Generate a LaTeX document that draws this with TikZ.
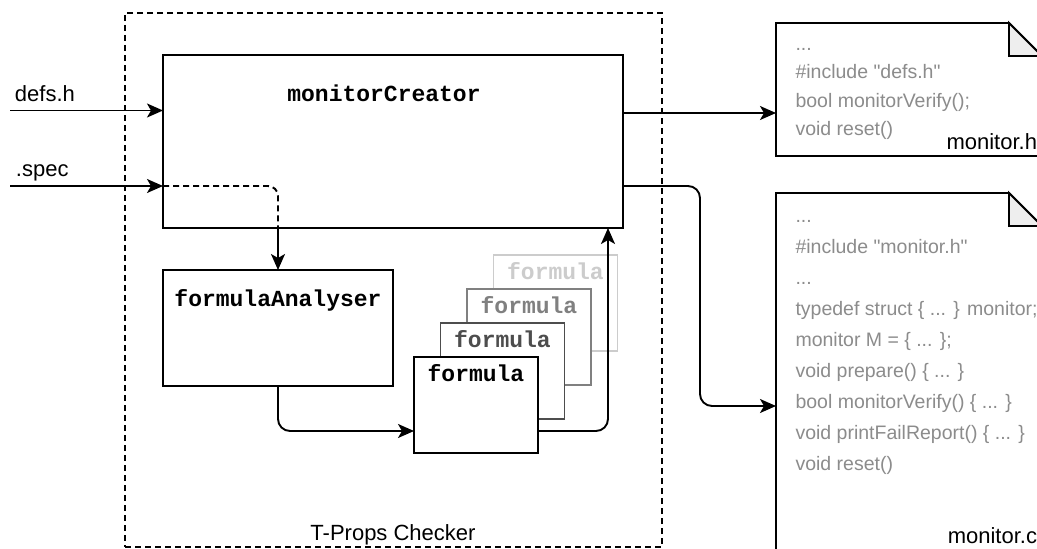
\documentclass[tikz,border=0pt]{standalone}
\usepackage{fontspec}
\setmainfont{Liberation Sans}
\newfontfamily\listfont{Liberation Sans}
\newfontfamily\codefont{Liberation Mono}
\usetikzlibrary{arrows.meta,calc}

\definecolor{codegray}{HTML}{8C8C8C}
\definecolor{foldfill}{HTML}{EEEEEE}
\definecolor{g1}{HTML}{4D4D4D}
\definecolor{g2}{HTML}{808080}
\definecolor{g3}{HTML}{CCCCCC}

\begin{document}
\begin{tikzpicture}[x=1pt,y=-1pt,
  every node/.style={inner sep=0pt,outer sep=0pt},
  lw/.style={line width=1.9pt},
  block/.style={draw, lw, fill=white, rectangle},
  arr/.style={lw, -{Stealth[length=16pt,width=14pt,inset=4pt]}},
  dashline/.style={lw, dash pattern=on 6pt off 4pt},
  lbl/.style={font=\fontsize{22}{26}\selectfont},
  code/.style={font=\codefont\bfseries\fontsize{23}{27}\selectfont},
  listing/.style={font=\listfont\fontsize{19.5}{24}\selectfont, text=codegray, anchor=base west},
  docline/.style={lw, fill=white, line join=miter},
]
\useasboundingbox (0,0) rectangle (1037,549);
\clip (0,0) rectangle (1037,549);

% checker frame
\node[draw, dashline, minimum width=537pt, minimum height=534pt] (frame) at (393.5,280) {};
\node[lbl, anchor=base] (frametitle) at (393,540) {T-Props Checker};

% main blocks
\node[block, minimum width=460pt, minimum height=173pt] (mc) at (393,141.5) {};
\node[code, anchor=base] (mctext) at (384,101) {monitorCreator};
\node[block, minimum width=230pt, minimum height=116pt] (fa) at (278,328) {};
\node[code, anchor=base] (fatext) at (278,306) {formulaAnalyser};

% stack of formula blocks, back to front
\foreach \i/\c in {3/g3,2/g2,1/g1,0/black}{
  \node[block, draw=\c, minimum width=124pt, minimum height=96pt] (f\i) at ({476+26.5*\i},{405-34*\i}) {};
  \node[code, text=\c, anchor=base] (ft\i) at ($(f\i.north)+(0,24.5)$) {formula};
}

% inputs
\coordinate (in1) at (10,110.5);
\coordinate (in2) at (10,186);
\node[lbl, anchor=base west] (defs) at (15,101) {defs.h};
\node[lbl, anchor=base west] (spec) at (16,176) {.spec};
\draw[arr] (in1) -- (in1 -| mc.west);
\draw[arr] (in2) -- (in2 -| mc.west);

% spec routed through monitorCreator to formulaAnalyser
\draw[dashline, rounded corners=10pt] (in2 -| mc.west) -| (fa.north |- mc.south);
\draw[arr] (fa.north |- mc.south) -- (fa.north);

% formulaAnalyser -> formula -> monitorCreator
\draw[arr, rounded corners=12pt] (fa.south) |- ([yshift=22pt]f0.south west);
\draw[arr, rounded corners=12pt] ([yshift=22pt]f0.south east) -| ([xshift=-15pt]mc.south east);

% output documents
\node[minimum width=266pt, minimum height=133pt] (mh) at (909,89.5) {};
\draw[docline] (mh.north west) -- ($(mh.north east)+(-33,0)$) -- ($(mh.north east)+(0,33)$)
  -- (mh.south east) -- (mh.south west) -- cycle;
\draw[lw, fill=foldfill, line join=miter] ($(mh.north east)+(-33,0)$) -- ($(mh.north east)+(-33,33)$) -- ($(mh.north east)+(0,33)$) -- cycle;

\node[minimum width=266pt, minimum height=426pt] (mcdoc) at (909,406) {};
\draw[docline] (mcdoc.north west) -- ($(mcdoc.north east)+(-33,0)$) -- ($(mcdoc.north east)+(0,33)$)
  -- (mcdoc.south east) -- (mcdoc.south west) -- cycle;
\draw[lw, fill=foldfill, line join=miter] ($(mcdoc.north east)+(-33,0)$) -- ($(mcdoc.north east)+(-33,33)$) -- ($(mcdoc.north east)+(0,33)$) -- cycle;

% monitor.h contents
\node[listing] (h1) at (795.5,50) {...};
\node[listing] (h2) at (795.5,78) {\#include "defs.h"};
\node[listing] (h3) at (795.5,107) {bool monitorVerify();};
\node[listing] (h4) at (795.5,135) {void reset()};
\node[lbl, anchor=base east] (mhname) at (1037,149) {monitor.h};

% monitor.c contents
\node[listing] (c1) at (795.5,222) {...};
\node[listing] (c2) at (795.5,253) {\#include "monitor.h"};
\node[listing] (c3) at (795.5,284) {...};
\node[listing] (c4) at (795.5,315) {typedef struct \{ ... \} monitor;};
\node[listing] (c5) at (795.5,346) {monitor M = \{ ... \};};
\node[listing] (c6) at (795.5,377) {void prepare() \{ ... \}};
\node[listing] (c7) at (795.5,408) {bool monitorVerify() \{ ... \}};
\node[listing] (c8) at (795.5,439) {void printFailReport() \{ ... \}};
\node[listing] (c9) at (795.5,470) {void reset()};
\node[lbl, anchor=base east] (mcname) at (1037,543) {monitor.c};

% outputs
\coordinate (o1) at ([yshift=28.5pt]mc.east);
\coordinate (o2) at ([yshift=-44.5pt]mc.east);
\coordinate (turn) at (700,0);
\draw[arr] (o1) -- (o1 -| mh.west);
\draw[arr, rounded corners=12pt] (o2) -- (o2 -| turn) -- (turn |- mcdoc.west) -- (mcdoc.west);
\end{tikzpicture}
\end{document}
